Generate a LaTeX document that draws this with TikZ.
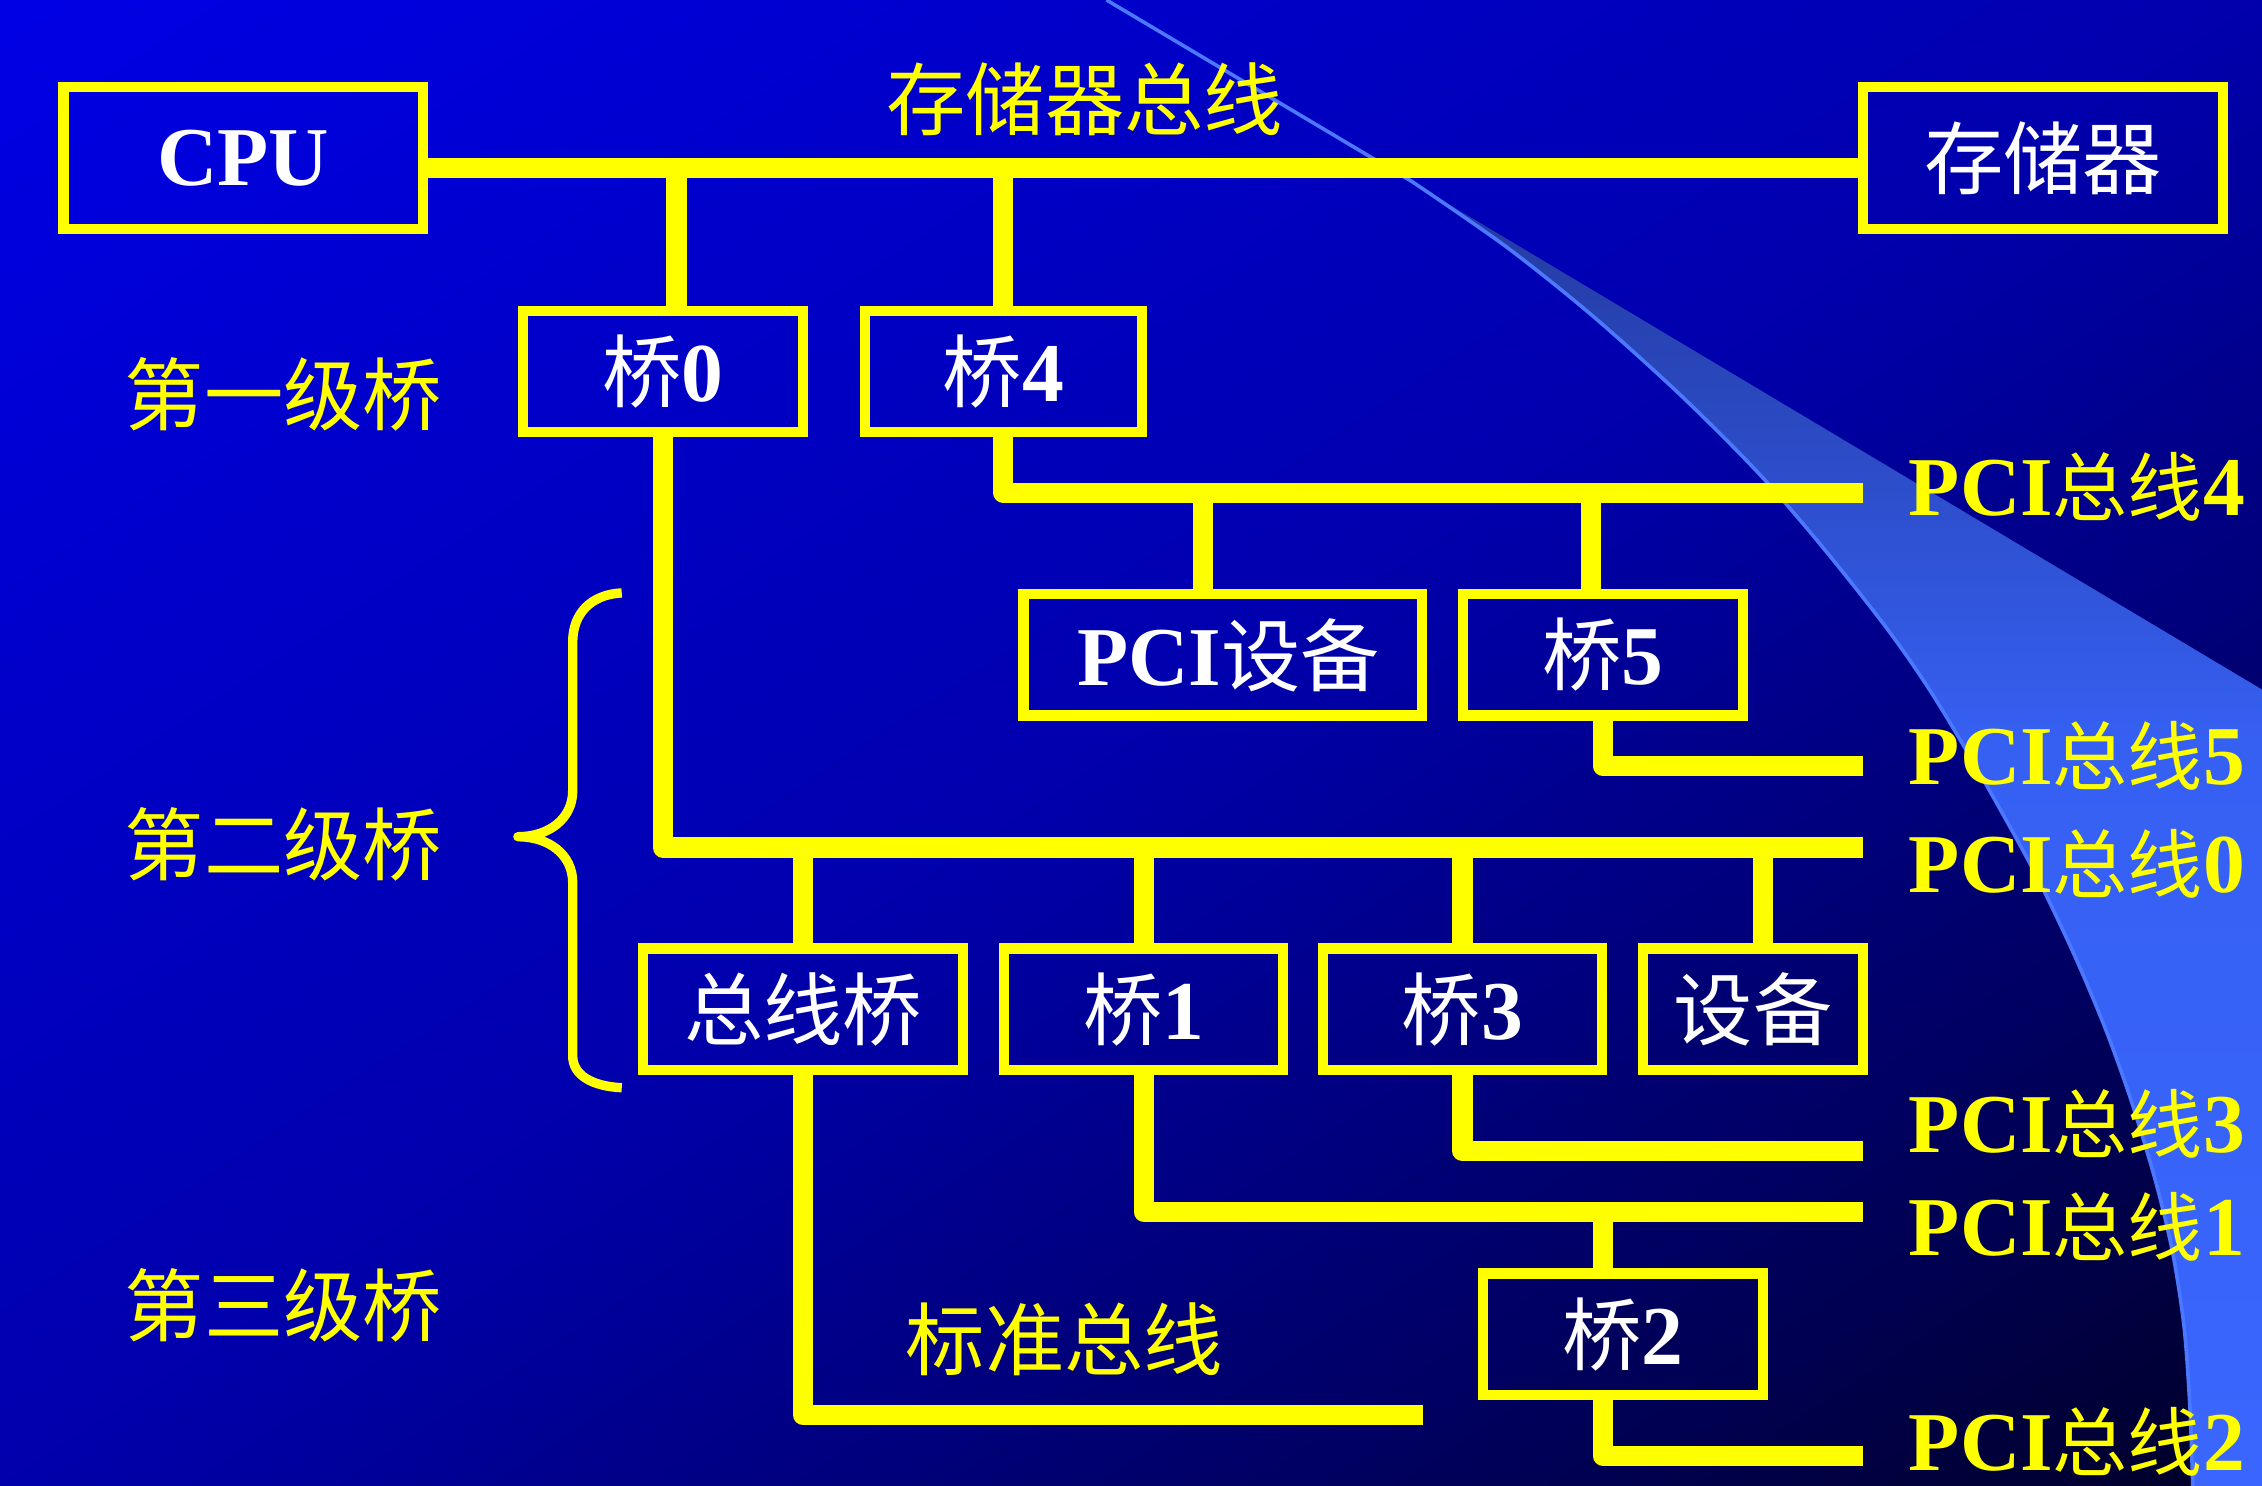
\documentclass[tikz,border=0pt]{standalone}
\usepackage{fontspec}
\setmainfont{Liberation Serif}
\newfontfamily\zhfont{Noto Sans CJK SC}
\newcommand\myLat{\rmfamily\bfseries\fontsize{58}{60}\selectfont}
\newcommand\myZh{\zhfont\fontsize{55}{60}\selectfont}
\newcommand\myZhB{\zhfont\fontsize{52}{56}\selectfont}
\newcommand\pcilab[1]{{\myLat PCI}{\myZhB 总线}{\myLat #1}}
\definecolor{ylw}{RGB}{255,255,0}
\definecolor{swtop}{RGB}{28,44,130}
\definecolor{swmid}{RGB}{54,96,242}
\definecolor{swbot}{RGB}{58,102,255}
\definecolor{swedge}{RGB}{75,120,255}
\tikzset{
  box/.style={draw=ylw, line width=7pt, inner sep=0pt, text=white, font=\myZh, minimum height=84pt},
  bus/.style={draw=ylw, line width=14pt, line join=round, line cap=butt},
  bracel/.style={draw=ylw, line width=6.5pt, line join=round, line cap=butt},
  lbl/.style={text=ylw, font=\myZh, inner sep=0pt},
  pci/.style={text=ylw, inner sep=0pt, anchor=base west},
}
\begin{document}
\begin{tikzpicture}[x=1pt,y=-1pt]
\useasboundingbox (0,0) rectangle (1568,1030);
% background gradient
\begin{scope}
\clip (0,0) rectangle (1568,1030);
\foreach \i in {0,...,119} {
  \pgfmathsetmacro\ta{\i/120}
  \pgfmathsetmacro\tb{(\i+1.6)/120}
  \pgfmathsetmacro\tm{(\i+0.5)/120}
  \pgfmathtruncatemacro\cc{230 - 114*min(\tm,0.5) - 260*max(0,min(\tm,0.84)-0.5) - 280*max(0,\tm-0.84)}
  \definecolor{bgc}{RGB}{0,0,\cc}
  \fill[bgc] ({2*\ta*1568},0) -- ({2*\tb*1568},0) -- (0,{2*\tb*1030}) -- (0,{2*\ta*1030}) -- cycle;
}
% swoosh
\shade[top color=swtop, bottom color=swbot, middle color=swmid]
  (767,0) -- (1568,478) -- (1568,1030) -- (1520,1030)
  -- plot[smooth] coordinates {(1520,1030) (1518,975) (1514,920) (1506,868) (1494,818) (1477,762) (1459,712) (1437,660) (1410,604) (1374,539) (1340,482) (1309,437) (1264,380) (1219,328) (1164,273) (1104,219) (1044,171) (979,126)}
  -- cycle;
\draw[swedge, line width=2.5pt] (767,0) -- plot[smooth] coordinates {(979,126) (1044,171) (1104,219) (1164,273) (1219,328) (1264,380) (1309,437) (1340,482) (1374,539) (1410,604) (1437,660) (1459,712) (1477,762) (1494,818) (1506,868) (1514,920) (1518,975) (1520,1030)};
\end{scope}

% boxes
\node[box, minimum width=249pt, minimum height=98pt] (cpu) at (168.5,109.5) {\myLat CPU};
\node[box, minimum width=249.5pt, minimum height=98pt] (mem) at (1416.25,109.5) {存储器};
\node[box, minimum width=194pt] (b0) at (459.5,257.5) {桥\myLat 0};
\node[box, minimum width=192pt] (b4) at (695.5,257.5) {桥\myLat 4};
\node[box, minimum width=276.5pt] (pcidev) at (847.75,454) {\hspace{8pt}{\myLat PCI}设备};
\node[box, minimum width=194pt] (b5) at (1111,454) {桥\myLat 5};
\node[box, minimum width=221.5pt] (busbr) at (556.75,699.5) {总线桥};
\node[box, minimum width=193.5pt] (b1) at (792.75,699.5) {桥\myLat 1};
\node[box, minimum width=193.5pt] (b3) at (1013.75,699.5) {桥\myLat 3};
\node[box, minimum width=152.5pt] (dev) at (1215.25,699.5) {设备};
\node[box, minimum width=194pt, minimum height=84.5pt] (b2) at (1125,925) {桥\myLat 2};

% bus levels and junction columns
\coordinate (ymb) at (0,116.5);
\coordinate (y4) at (1291.5,341.5);
\coordinate (y5) at (1291.5,531);
\coordinate (y0) at (1291.5,587.5);
\coordinate (y3) at (1291.5,798);
\coordinate (y1) at (1291.5,840);
\coordinate (y2) at (1291.5,1009);
\coordinate (ystd) at (986.5,981);
\coordinate (xa) at (469,0);
\coordinate (xb) at (834,0);
\coordinate (xc) at (1103,0);
\coordinate (xd) at (1222,0);
\coordinate (xe) at (1111,0);

% connectors
\draw[bus] (cpu.east |- ymb) -- (mem.west |- ymb);
\draw[bus] (b0.north -| xa) -- (ymb -| xa);
\draw[bus] (b4.north) -- (b4.north |- ymb);
\draw[bus] (b4.south) |- (y4);
\draw[bus] (pcidev.north -| xb) -- (xb |- y4);
\draw[bus] (b5.north -| xc) -- (xc |- y4);
\draw[bus] (b5.south) |- (y5);
\draw[bus] (b0.south) |- (y0);
\draw[bus] (busbr.north) -- (busbr.north |- y0);
\draw[bus] (b1.north) -- (b1.north |- y0);
\draw[bus] (b3.north) -- (b3.north |- y0);
\draw[bus] (dev.north -| xd) -- (xd |- y0);
\draw[bus] (busbr.south) |- (ystd);
\draw[bus] (b1.south) |- (y1);
\draw[bus] (b3.south) |- (y3);
\draw[bus] (b2.north -| xe) -- (xe |- y1);
\draw[bus] (b2.south -| xe) |- (y2);

% brace
\draw[bracel] (431,411) .. controls (410,412) and (397,425) .. (397,445) -- (397,548)
  .. controls (397,568) and (380,580) .. (359,580)
  .. controls (380,580) and (397,592) .. (397,612) -- (397,732)
  .. controls (397,745) and (410,753) .. (431,754);

% labels
\node[lbl, anchor=base] (lv1) at (196.5,294.5) {第一级桥};
\node[lbl, anchor=base] (lv2) at (196.5,606) {第二级桥};
\node[lbl, anchor=base] (lv3) at (196.5,926) {第三级桥};
\node[lbl, anchor=base] (lmb) at (752,90) {存储器总线};
\node[lbl, anchor=base] (lstd) at (738,949) {标准总线};
\node[pci] (p4) at (1323,357) {\pcilab{4}};
\node[pci] (p5) at (1323,544) {\pcilab{5}};
\node[pci] (p0) at (1323,619) {\pcilab{0}};
\node[pci] (p3) at (1323,799) {\pcilab{3}};
\node[pci] (p1) at (1323,870) {\pcilab{1}};
\node[pci] (p2) at (1323,1019) {\pcilab{2}};
\end{tikzpicture}
\end{document}
